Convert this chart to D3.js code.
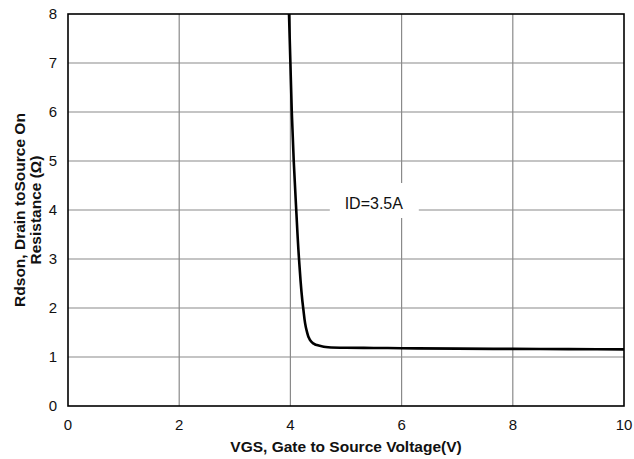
<!DOCTYPE html>
<html>
<head>
<meta charset="utf-8">
<script src="https://cdn.jsdelivr.net/npm/d3@7"></script>
<style>
body { margin: 0; background: #fff; }
text { font-family: "Liberation Sans", Arial, sans-serif; fill: #111; }
</style>
</head>
<body>
<svg id="chart" width="634" height="459"></svg>
<script>
// data
var vgs = [3.975, 4.0, 4.025, 4.06, 4.105, 4.155, 4.23, 4.29, 4.35, 4.41, 4.47, 4.58, 4.68, 5.0, 5.5, 6, 7, 8, 9, 10];
var rdson = [8, 7, 6, 5, 4, 3, 2, 1.55, 1.35, 1.28, 1.245, 1.215, 1.2, 1.19, 1.185, 1.18, 1.17, 1.165, 1.16, 1.155];
var xTicks = [0, 2, 4, 6, 8, 10];
var yTicks = [0, 1, 2, 3, 4, 5, 6, 7, 8];
var seriesLabel = "ID=3.5A";

var svg = d3.select("#chart");
var pLeft = 68, pRight = 624, pTop = 14, pBottom = 406;

var x = d3.scaleLinear().domain([0, 10]).range([pLeft, pRight]);
var y = d3.scaleLinear().domain([0, 8]).range([pBottom, pTop]);

// grid
svg.selectAll(".vg").data(xTicks.slice(1, -1)).enter().append("line")
  .attr("x1", d => x(d)).attr("x2", d => x(d))
  .attr("y1", pTop).attr("y2", pBottom)
  .attr("stroke", "#8a8a8a").attr("stroke-width", 1.2);
svg.selectAll(".hg").data(yTicks.slice(1, -1)).enter().append("line")
  .attr("x1", pLeft).attr("x2", pRight)
  .attr("y1", d => y(d)).attr("y2", d => y(d))
  .attr("stroke", "#8a8a8a").attr("stroke-width", 1.2);

// label box hides grid behind it
var lx = 5.5, ly = 4;
svg.append("rect")
  .attr("x", x(lx) - 44).attr("y", y(ly) - 27)
  .attr("width", 89).attr("height", 35)
  .attr("fill", "#fff");
svg.append("text")
  .attr("x", x(lx)).attr("y", y(ly) - 1)
  .attr("text-anchor", "middle")
  .attr("font-size", 16)
  .text(seriesLabel);

// frame
svg.append("rect")
  .attr("x", pLeft).attr("y", pTop)
  .attr("width", pRight - pLeft).attr("height", pBottom - pTop)
  .attr("fill", "none").attr("stroke", "#000").attr("stroke-width", 1.6);

// curve
var pts = vgs.map((v, i) => [v, rdson[i]]);
svg.append("path")
  .datum(pts)
  .attr("fill", "none")
  .attr("stroke", "#000")
  .attr("stroke-width", 2.6)
  .attr("d", d3.line().x(d => x(d[0])).y(d => y(d[1])).curve(d3.curveMonotoneY));

// tick labels
svg.selectAll(".xl").data(xTicks).enter().append("text")
  .attr("x", d => x(d)).attr("y", 430)
  .attr("text-anchor", "middle").attr("font-size", 15)
  .text(d => d);
svg.selectAll(".yl").data(yTicks).enter().append("text")
  .attr("x", 57).attr("y", d => y(d) + 5)
  .attr("text-anchor", "end").attr("font-size", 15)
  .text(d => d);

// axis titles
svg.append("text")
  .attr("x", 346).attr("y", 452)
  .attr("text-anchor", "middle").attr("font-size", 15.5).attr("font-weight", "bold")
  .text("VGS, Gate to Source Voltage(V)");

var yt = svg.append("text")
  .attr("transform", "translate(0,210) rotate(-90)")
  .attr("text-anchor", "middle").attr("font-size", 15.5).attr("font-weight", "bold");
yt.append("tspan").attr("x", 0).attr("y", 25).text("Rdson, Drain toSource On");
yt.append("tspan").attr("x", 0).attr("y", 41).text("Resistance (Ω)");
</script>
</body>
</html>
